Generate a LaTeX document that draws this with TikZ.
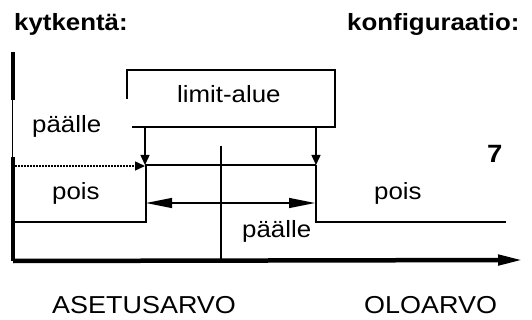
\documentclass[tikz,border=0pt]{standalone}
\usepackage{fontspec}
\setmainfont{Liberation Sans}[FakeStretch=1.1]
\usetikzlibrary{arrows.meta}
\begin{document}
\begin{tikzpicture}[x=1pt,y=-1pt,
  lbl/.style={inner sep=0pt,anchor=base west,font=\fontsize{23.5}{28}\selectfont},
  head/.style={inner sep=0pt,anchor=base west,font=\fontsize{23.5}{28}\selectfont\bfseries},
  axl/.style={inner sep=0pt,anchor=base west,font=\fontsize{24.5}{29}\selectfont},
  ln/.style={line width=1.4pt},
  axis/.style={line width=4.5pt},
  smalltip/.style={-{Triangle[length=10pt,width=9pt]}},
  bigtips/.style={{Triangle[length=26pt,width=10pt]}-{Triangle[length=26pt,width=10pt]}}]
\useasboundingbox (0,0) rectangle (532,320);
% texts
\node[head] (k) at (14,31) {kytkentä:};
\node[head] (c) at (347,31) {konfiguraatio:};
\node[lbl] (la) at (177,103) {limit-alue};
\node[lbl] (p1) at (32,133) {päälle};
\node[lbl] (o1) at (52,200) {pois};
\node[lbl] (o2) at (374,200) {pois};
\node[lbl] (p2) at (242,237) {päälle};
\node[head,font=\fontsize{25}{30}\selectfont\bfseries] (seven) at (487,163) {7};
\node[axl] (as) at (52,313) {ASETUSARVO};
\node[axl] (ol) at (364,313) {OLOARVO};
% coordinates
\coordinate (ya) at (13,52);
\coordinate (yb) at (13,100);
\coordinate (yc) at (12,100);
\coordinate (yd) at (12,157);
\coordinate (ye) at (13,157);
\coordinate (o) at (13,261);
\coordinate (xe) at (523,260);
\coordinate (b1) at (127,99);
\coordinate (b2) at (127,70);
\coordinate (b3) at (335,70);
\coordinate (b4) at (335,127);
\coordinate (b5) at (132,127);
\coordinate (l1) at (145,127);
\coordinate (l2) at (145,165);
\coordinate (r1) at (316,127);
\coordinate (r2) at (316,165);
\coordinate (d1) at (15,166);
\coordinate (d2) at (145,166);
\coordinate (s1) at (13,222);
\coordinate (s2) at (146,222);
\coordinate (s3) at (146,165);
\coordinate (t1) at (316,222);
\coordinate (t2) at (506,222);
\coordinate (v1) at (221,146);
\coordinate (v2) at (221,259);
\coordinate (a1) at (146,203);
\coordinate (a2) at (315,203);
% axes
\draw[axis] (ya) -- (yb);
\draw[line width=1pt] (yc) -- (yd);
\draw[axis] (ye) -- (o);
\draw[axis,-{Triangle[length=25pt,width=10pt]}] (o) -- (xe);
% limit box
\draw[ln] (b1) -- (b2) -- (b3) -- (b4) -- (b5);
\draw[ln,smalltip] (l1) -- (l2);
\draw[ln,smalltip] (r1) -- (r2);
\draw[ln] (l2) -- (r2);
\draw[ln,dash pattern=on 1.5pt off 1.5pt,-{Triangle[length=10pt,width=9pt]}] (d1) -- (d2);
% steps
\draw[ln] (s1) -- (s2) -- (s3);
\draw[ln] (r2) -- (t1) -- (t2);
\draw[ln] (v1) -- (v2);
\draw[ln,bigtips] (a1) -- (a2);
\end{tikzpicture}
\end{document}
